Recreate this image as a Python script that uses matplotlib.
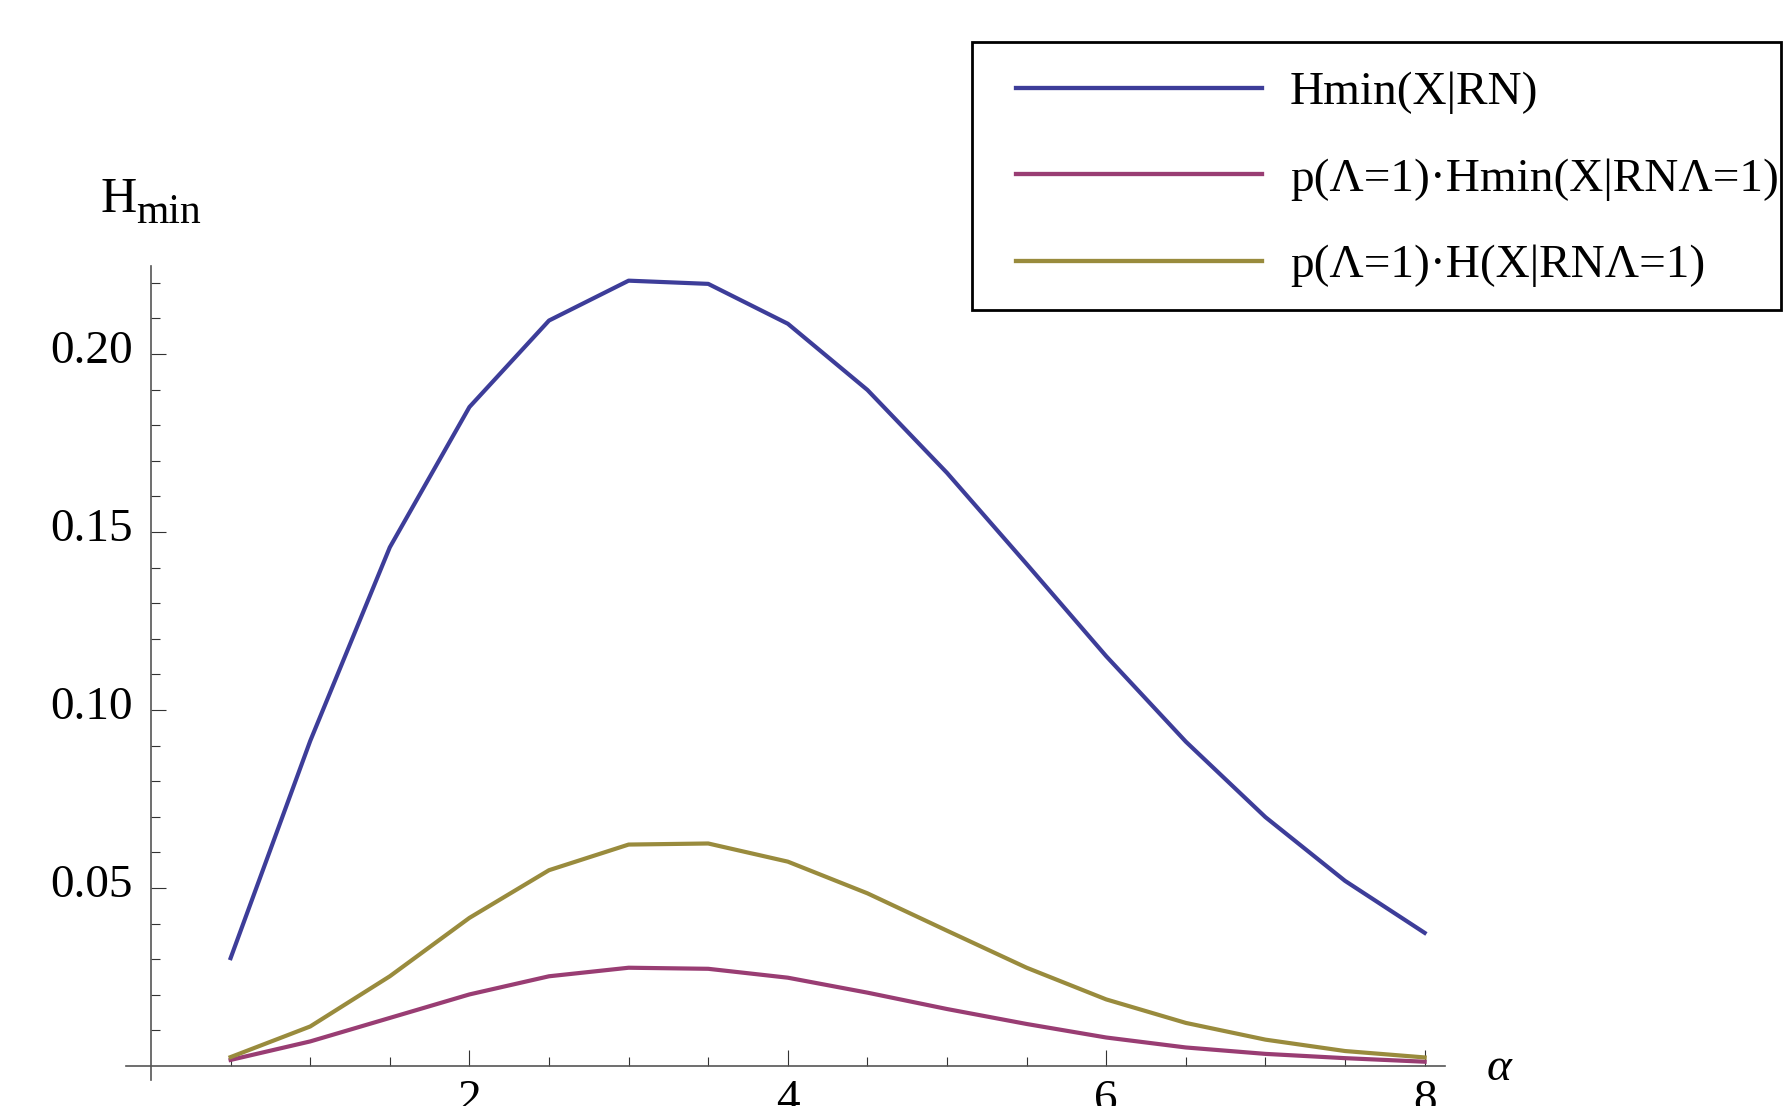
import numpy as np
import matplotlib
matplotlib.use("Agg")
import matplotlib.pyplot as plt
from matplotlib.patches import Rectangle
from matplotlib.transforms import ScaledTranslation
from matplotlib.ticker import FixedLocator, FormatStrFormatter


# Data
alpha = [0.5, 1.0, 1.5, 2.0, 2.5, 3.0, 3.5, 4.0,
         4.5, 5.0, 5.5, 6.0, 6.5, 7.0, 7.5, 8.0]

hmin_rn = [0.0303, 0.0913, 0.1457, 0.1851, 0.2094, 0.2206, 0.2197, 0.2085,
           0.1899, 0.1666, 0.1410, 0.1151, 0.0911, 0.0699, 0.0520, 0.0374]

hmin_cond = [0.0017, 0.0069, 0.0135, 0.0201, 0.0252, 0.0276, 0.0273, 0.0248,
             0.0206, 0.0160, 0.0118, 0.0080, 0.0052, 0.0034, 0.0022, 0.0012]

h_cond = [0.0025, 0.0111, 0.0252, 0.0416, 0.0550, 0.0622, 0.0625, 0.0574,
          0.0485, 0.0380, 0.0276, 0.0187, 0.0121, 0.0074, 0.0042, 0.0024]

labels = ["Hmin(X|RN)",
          "p(Λ=1)·Hmin(X|RNΛ=1)",
          "p(Λ=1)·H(X|RNΛ=1)"]
colors = ["#3d3d99", "#993d73", "#998b3d"]

plt.rcParams["font.family"] = ["Liberation Serif", "DejaVu Serif"]

fig = plt.figure(figsize=(17.87, 11.06), dpi=100)
ax = fig.add_axes([0, 0, 1, 1])
ax.patch.set_alpha(0)

for series, lab, col in zip([hmin_rn, hmin_cond, h_cond], labels, colors):
    ax.plot(alpha, series, color=col, lw=3.0, label=lab,
            solid_joinstyle="round")

ax.set_xlim(-0.9485, 10.276)
ax.set_ylim(-0.01124, 0.29944)

# Mathematica-style axes crossing at the origin
ax.spines["top"].set_visible(False)
ax.spines["right"].set_visible(False)
ax.spines["left"].set_position(("data", 0))
ax.spines["bottom"].set_position(("data", 0))
ax.spines["left"].set_bounds(-0.004, 0.2247)
ax.spines["bottom"].set_bounds(-0.16, 8.13)
for s in ["left", "bottom"]:
    ax.spines[s].set_color("#555555")
    ax.spines[s].set_linewidth(1.2)

ax.xaxis.set_major_locator(FixedLocator([2, 4, 6, 8]))
ax.xaxis.set_minor_locator(FixedLocator(np.arange(0.5, 8.01, 0.5)))
ax.yaxis.set_major_locator(FixedLocator([0.05, 0.10, 0.15, 0.20]))
ax.yaxis.set_minor_locator(FixedLocator(np.arange(0.01, 0.2201, 0.01)))
ax.yaxis.set_major_formatter(FormatStrFormatter("%.2f"))

ax.tick_params(axis="x", which="major", direction="in", length=11.5,
               width=0.8, pad=10, labelsize=34, color="#333333")
ax.tick_params(axis="x", which="minor", direction="in", length=6.7,
               width=0.8, color="#333333")
ax.tick_params(axis="y", which="major", direction="in", length=10.8,
               width=0.8, pad=13, labelsize=34, color="#333333")
ax.tick_params(axis="y", which="minor", direction="in", length=6.5,
               width=0.8, color="#333333")

# y labels sit a little above their ticks
shift = ScaledTranslation(0, 5 / 72, fig.dpi_scale_trans)
for t in ax.yaxis.get_major_ticks():
    t.label1.set_transform(t.label1.get_transform() + shift)

# axis labels
ax.text(8.39, -0.0039, "α", fontsize=34, style="italic",
        ha="left", va="baseline")
fig.text(100 / 1787, 1 - 212 / 1106, "H", fontsize=36,
         ha="left", va="baseline")
fig.text(136 / 1787, 1 - 223 / 1106, "min", fontsize=30,
         ha="left", va="baseline")

# legend with a square black frame
leg = ax.legend(loc="upper left", bbox_to_anchor=(1016 / 1787, 1 - 71 / 1106),
                bbox_transform=fig.transFigure, borderaxespad=0,
                frameon=False, fontsize=34, handlelength=5.2,
                handletextpad=0.6, labelspacing=0.92, borderpad=0)
for h in leg.get_lines():
    h.set_linewidth(3.1)
fig.patches.append(Rectangle((972 / 1787, 1 - 310 / 1106),
                             809 / 1787, 268 / 1106,
                             transform=fig.transFigure, fill=False,
                             edgecolor="black", linewidth=2, zorder=5))

plt.savefig("out.png", dpi=100)
